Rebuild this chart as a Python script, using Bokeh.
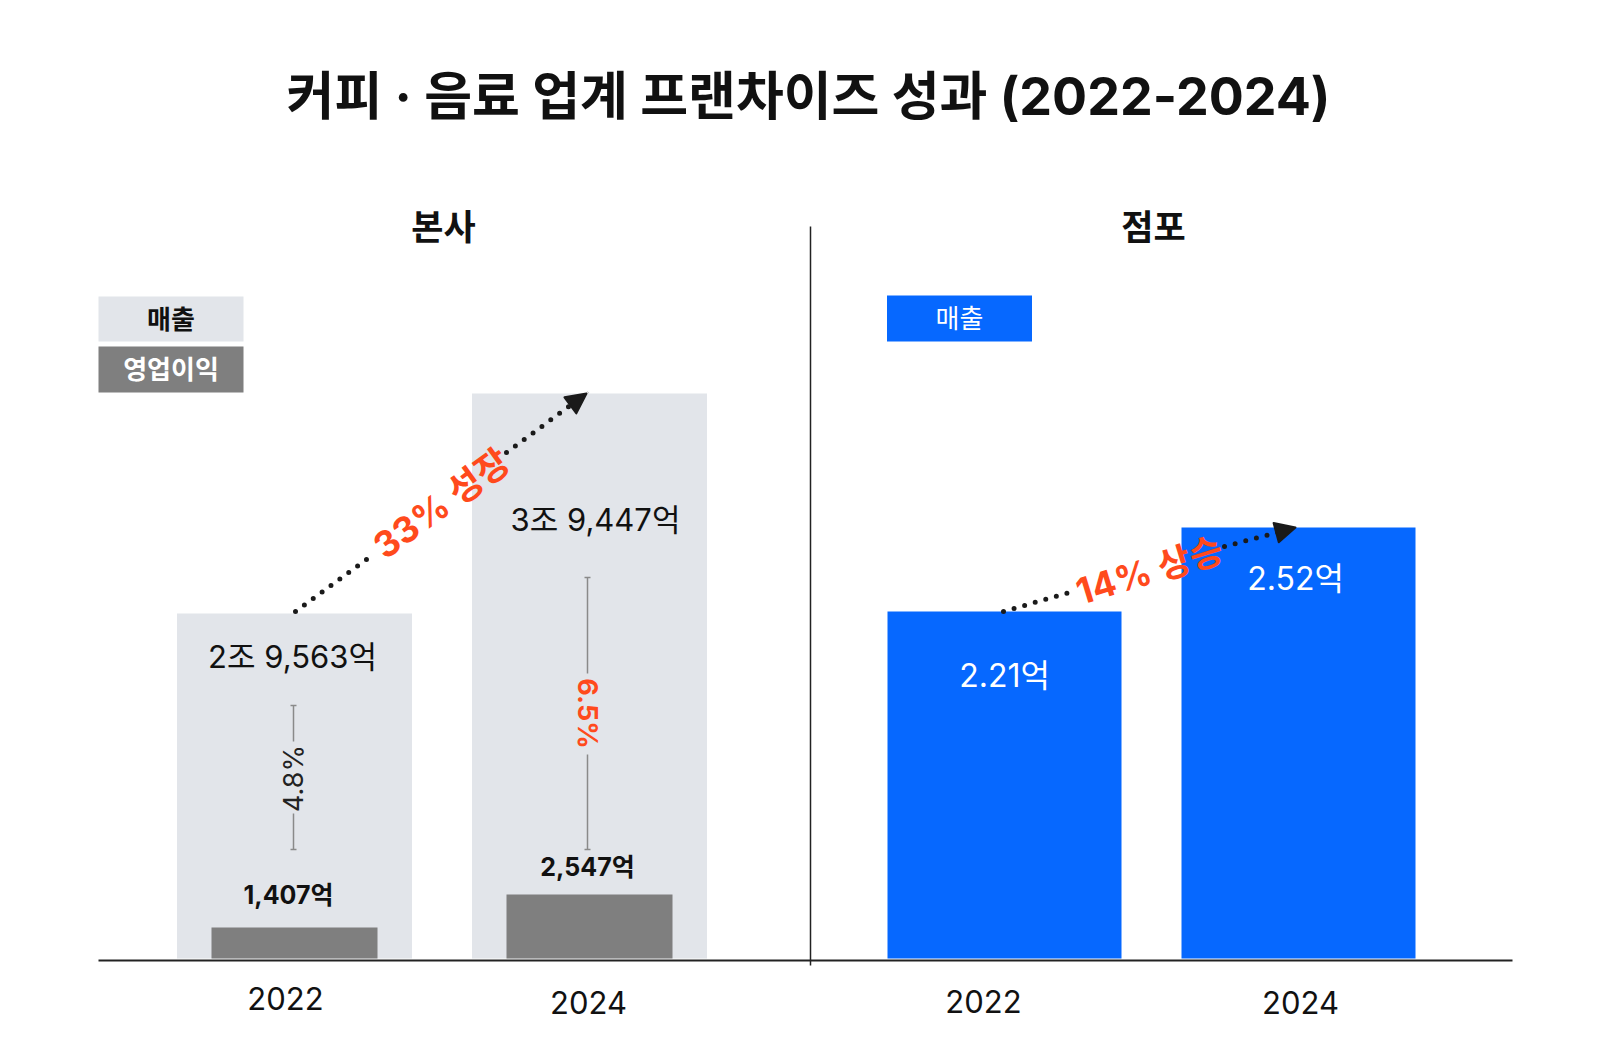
import math
from bokeh.plotting import figure
from bokeh.models import Range1d, Arrow, NormalHead
from bokeh.core.properties import value
from bokeh.embed import file_html
from bokeh.resources import INLINE

# ---------------- data ----------------
years = ["2022", "2024"]
hq_revenue = [29563, 39447]        # 본사 매출 (억원)
hq_op_profit = [1407, 2547]        # 본사 영업이익 (억원)
store_revenue = [2.21, 2.52]       # 점포 매출 (억원)

title_text = "커피 · 음료 업계 프랜차이즈 성과 (2022-2024)"
panel_titles = ["본사", "점포"]
legend_labels = ["매출", "영업이익", "매출"]


def fmt_jo(v):
    jo, eok = divmod(v, 10000)
    return f"{jo}조 {eok:,}억"


rev_labels = [fmt_jo(v) for v in hq_revenue]
op_labels = [f"{v:,}억" for v in hq_op_profit]
store_labels = [f"{v:.2f}억" for v in store_revenue]
margins = [f"{o / r * 100:.1f}%" for o, r in zip(hq_op_profit, hq_revenue)]
hq_growth = f"{round((hq_revenue[1] / hq_revenue[0] - 1) * 100)}% 성장"
st_growth = f"{round((store_revenue[1] / store_revenue[0] - 1) * 100)}% 상승"

# ---------------- layout ----------------
W, H = 1596, 1048
SHIFT = 8            # layout offset (px)
BASE_Y = 98 - SHIFT  # pixel height of the baseline above the bottom
FONT = value("Inter, 'Noto Sans CJK KR'")
BLACK = "#111111"
LIGHT = "#E2E5EA"
GRAY = "#7F7F7F"
BLUE = "#0668FF"
ORANGE = "#FF4A1C"

hq_x = [286, 581]
st_x = [996, 1290]


def px_range(base_value, px_per_unit):
    start = base_value - BASE_Y / px_per_unit
    return Range1d(start, start + H / px_per_unit)


p = figure(width=W, height=H, x_range=Range1d(-SHIFT, W - SHIFT),
           y_range=Range1d(SHIFT, H + SHIFT),
           output_backend="svg", toolbar_location=None, min_border=0,
           x_axis_type=None, y_axis_type=None)
p.grid.visible = False
p.outline_line_color = None
p.background_fill_color = "white"
p.border_fill_color = "white"

REV_BASE, OP_BASE, ST_BASE = 14064, 336, 0.93
p.extra_y_ranges = {
    "rev": px_range(REV_BASE, 0.02226),
    "op": px_range(OP_BASE, 0.02895),
    "store": px_range(ST_BASE, 271.0),
}

# bars
p.vbar(x=hq_x, width=235, bottom=REV_BASE, top=hq_revenue, y_range_name="rev",
       fill_color=LIGHT, line_color=None)
p.vbar(x=hq_x, width=166, bottom=OP_BASE, top=hq_op_profit, y_range_name="op",
       fill_color=GRAY, line_color=None)
p.vbar(x=st_x, width=234, bottom=ST_BASE, top=store_revenue, y_range_name="store",
       fill_color=BLUE, line_color=None)

# axis baseline and divider
p.segment(x0=[90], y0=[96], x1=[1504], y1=[96], line_color="#222222", line_width=2)
p.segment(x0=[802], y0=[830], x1=[802], y1=[91], line_color="#222222", line_width=1.5)

# title / panel titles
p.text(x=[800], y=[960], text=[title_text], text_font=FONT, text_font_size="52px",
       text_font_style="bold", text_color=BLACK, text_align="center", text_baseline="middle")
p.text(x=[435, 1145], y=[830, 830], text=panel_titles, text_font=FONT, text_font_size="35px",
       text_font_style="bold", text_color=BLACK, text_align="center", text_baseline="middle")

# legends
p.rect(x=[162.5], y=[737.5], width=145, height=45, fill_color=LIGHT, line_color=None)
p.rect(x=[162.5], y=[687], width=145, height=46, fill_color=GRAY, line_color=None)
p.rect(x=[951], y=[738], width=145, height=46, fill_color=BLUE, line_color=None)
p.text(x=[162.5], y=[737.5], text=[legend_labels[0]], text_font=FONT, text_font_size="26px",
       text_font_style="bold", text_color=BLACK, text_align="center", text_baseline="middle")
p.text(x=[162.5], y=[687], text=[legend_labels[1]], text_font=FONT, text_font_size="26px",
       text_font_style="bold", text_color="white", text_align="center", text_baseline="middle")
p.text(x=[951], y=[738], text=[legend_labels[2]], text_font=FONT, text_font_size="26px",
       text_color="white", text_align="center", text_baseline="middle")

# value labels
p.text(x=[284, 587], y=[400, 537], text=rev_labels, text_font=FONT, text_font_size="31px",
       text_color=BLACK, text_align="center", text_baseline="middle")
p.text(x=[280, 579], y=[162, 190], text=op_labels, text_font=FONT, text_font_size="25px",
       text_font_style="bold", text_color=BLACK, text_align="center", text_baseline="middle")
p.text(x=[996, 1287], y=[381, 478], text=store_labels, text_font=FONT, text_font_size="32px",
       text_color="white", text_align="center", text_baseline="middle")

# years
p.text(x=[277, 580, 975, 1292], y=[58, 54, 55, 54], text=years + years, text_font=FONT,
       text_font_size="31px", text_color=BLACK, text_align="center", text_baseline="middle")

# margin whiskers
WH = "#8A8A8A"
p.segment(x0=[285, 285], y0=[351, 243], x1=[285, 285], y1=[315, 207], line_color=WH, line_width=1.5)
p.segment(x0=[282, 282], y0=[351, 207], x1=[288, 288], y1=[351, 207], line_color=WH, line_width=1.5)
p.segment(x0=[579, 579], y0=[479, 302], x1=[579, 579], y1=[383, 207], line_color=WH, line_width=1.5)
p.segment(x0=[576, 576], y0=[479, 207], x1=[582, 582], y1=[479, 207], line_color=WH, line_width=1.5)
p.text(x=[285], y=[278], text=[margins[0]], angle=math.pi / 2, text_font=FONT,
       text_font_size="27px", text_color="#222222", text_align="center", text_baseline="middle")
p.text(x=[579], y=[343], text=[margins[1]], angle=-math.pi / 2, text_font=FONT,
       text_font_size="27px", text_font_style="bold", text_color=ORANGE,
       text_align="center", text_baseline="middle")

# growth arrows (dotted)
DOT = "#1A1A1A"
p.segment(x0=[287, 995], y0=[445, 445], x1=[362, 1064], y1=[500, 465],
          line_color=DOT, line_width=5, line_dash="0 11", line_cap="round")
for xs, ys, xe, ye in [(498, 604, 578, 663), (1216, 510, 1287, 529)]:
    p.add_layout(Arrow(x_start=xs, y_start=ys, x_end=xe, y_end=ye,
                       line_color=DOT, line_width=5, line_dash="0 11", line_cap="round",
                       end=NormalHead(size=20, fill_color=DOT, line_color=DOT,
                                      line_width=2, line_join="round")))
p.text(x=[433], y=[553], text=[hq_growth], angle=math.radians(36), text_font=FONT,
       text_font_size="36px", text_font_style="bold", text_color=ORANGE,
       text_align="center", text_baseline="middle")
p.text(x=[1141], y=[486], text=[st_growth], angle=math.radians(17), text_font=FONT,
       text_font_size="36px", text_font_style="bold", text_color=ORANGE,
       text_align="center", text_baseline="middle")

open("out.html", "w").write(file_html(p, INLINE))
